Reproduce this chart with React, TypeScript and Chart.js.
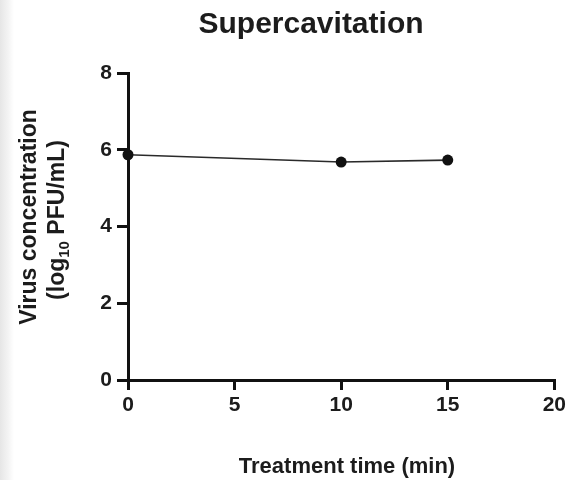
import { useEffect, useRef } from "react";
import { Chart, registerables } from "chart.js";

Chart.register(...registerables);

const FONT = '"Liberation Sans", Arial, Helvetica, sans-serif';
const INK = "#1c1c1c";

// Chart text
const TITLE = "Supercavitation";
const X_TITLE = "Treatment time (min)";
const Y_TITLE_LINE1 = "Virus concentration";
const Y_TITLE_LINE2 = ["(log", "10", " PFU/mL)"]; // "10" is drawn as a subscript

// Measured series
const treatmentMinutes = [0, 10, 15];
const virusLog10 = [5.87, 5.68, 5.73];

// Axis ticks
const xTicks = [0, 5, 10, 15, 20];
const yTicks = [0, 2, 4, 6, 8];

const figureText = {
  id: "figureText",
  afterDraw(chart: Chart) {
    const { ctx } = chart;
    ctx.save();
    ctx.fillStyle = INK;
    ctx.textBaseline = "alphabetic";

    // main title
    ctx.textAlign = "center";
    ctx.font = `bold 30px ${FONT}`;
    ctx.fillText(TITLE, 311, 33);

    // x-axis title
    ctx.font = `bold 22px ${FONT}`;
    ctx.fillText(X_TITLE, 347, 473);

    // y-axis title, first line
    ctx.save();
    ctx.translate(36, 217);
    ctx.rotate(-Math.PI / 2);
    ctx.font = `bold 23px ${FONT}`;
    ctx.fillText(Y_TITLE_LINE1, 0, 0);
    ctx.restore();

    // y-axis title, second line with subscript
    ctx.save();
    ctx.translate(64, 220);
    ctx.rotate(-Math.PI / 2);
    ctx.textAlign = "left";
    const big = `bold 23px ${FONT}`;
    const small = `bold 15px ${FONT}`;
    const parts = [
      { t: Y_TITLE_LINE2[0], f: big, dy: 0 },
      { t: Y_TITLE_LINE2[1], f: small, dy: 5 },
      { t: Y_TITLE_LINE2[2], f: big, dy: 0 },
    ];
    let total = 0;
    for (const p of parts) {
      ctx.font = p.f;
      total += ctx.measureText(p.t).width;
    }
    let x = -total / 2;
    for (const p of parts) {
      ctx.font = p.f;
      ctx.fillText(p.t, x, p.dy);
      x += ctx.measureText(p.t).width;
    }
    ctx.restore();

    ctx.restore();
  },
};

export default function App() {
  const canvasRef = useRef<HTMLCanvasElement | null>(null);

  useEffect(() => {
    const canvas = canvasRef.current;
    if (!canvas) return;

    const tickFont = { family: FONT, size: 21, weight: "bold" as const };

    const chart = new Chart(canvas, {
      type: "line",
      data: {
        datasets: [
          {
            label: "Supercavitation",
            data: treatmentMinutes.map((t, i) => ({ x: t, y: virusLog10[i] })),
            borderColor: "#2a2a2a",
            borderWidth: 1.6,
            pointRadius: 5.5,
            pointBackgroundColor: "#111",
            pointBorderColor: "#111",
            pointBorderWidth: 0,
            tension: 0,
            clip: false as any,
          },
        ],
      },
      options: {
        responsive: false,
        animation: false,
        events: [],
        layout: { padding: { left: 0, right: 12, top: 73, bottom: 0 } },
        plugins: {
          legend: { display: false },
          title: { display: false },
          tooltip: { enabled: false },
        },
        scales: {
          x: {
            type: "linear",
            min: 0,
            max: 20,
            afterBuildTicks: (s: any) => {
              s.ticks = xTicks.map((v) => ({ value: v }));
            },
            afterFit: (s: any) => {
              s.height = 100;
            },
            ticks: {
              color: INK,
              font: tickFont,
              padding: 3,
              maxRotation: 0,
              autoSkip: false,
            },
            grid: {
              drawOnChartArea: false,
              drawTicks: true,
              tickLength: 10,
              tickWidth: 3,
              lineWidth: 3,
              color: "#111",
            },
            border: { display: true, width: 3, color: "#111" },
            title: { display: false },
          },
          y: {
            type: "linear",
            min: 0,
            max: 8,
            afterBuildTicks: (s: any) => {
              s.ticks = yTicks.map((v) => ({ value: v }));
            },
            afterFit: (s: any) => {
              s.width = 128;
            },
            ticks: {
              color: INK,
              font: tickFont,
              padding: 5,
              autoSkip: false,
            },
            grid: {
              drawOnChartArea: false,
              drawTicks: true,
              tickLength: 11,
              tickWidth: 3,
              lineWidth: 3,
              color: "#111",
            },
            border: { display: true, width: 3, color: "#111" },
            title: { display: false },
          },
        },
      },
      plugins: [figureText],
    });

    return () => chart.destroy();
  }, []);

  return (
    <div
      style={{
        position: "fixed",
        left: 0,
        top: 0,
        width: 569,
        height: 480,
        background: "#ffffff",
        overflow: "hidden",
      }}
    >
      <div
        style={{
          position: "absolute",
          left: 0,
          top: 0,
          width: 14,
          height: 480,
          background: "linear-gradient(to right, #e6e6e6, #f4f4f4 60%, #ffffff)",
        }}
      />
      <canvas
        ref={canvasRef}
        width={569}
        height={480}
        style={{ position: "absolute", left: 0, top: 0, display: "block" }}
      />
    </div>
  );
}
